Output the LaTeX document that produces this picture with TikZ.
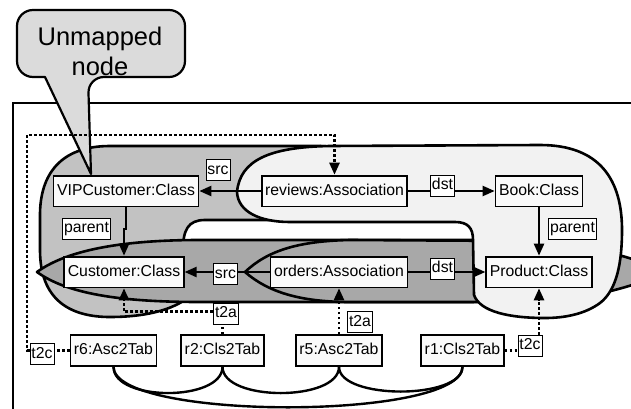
\documentclass[tikz,border=0pt]{standalone}
\usepackage{fontspec}
\setmainfont{Liberation Sans}
\usetikzlibrary{arrows.meta}
\definecolor{blobmid}{gray}{0.76}
\definecolor{blobdark}{gray}{0.66}
\definecolor{bloblight}{gray}{0.95}
\definecolor{calloutfill}{gray}{0.86}
\definecolor{boxfill}{gray}{0.98}
\begin{document}
\begin{tikzpicture}[x=1pt,y=-1pt,
  elem/.style={draw=black, line width=1.8pt, fill=boxfill, font=\fontsize{15.8}{18}\selectfont,
    text height=12pt, text depth=3.8pt, inner xsep=3.5pt, inner ysep=7.5pt},
  lbl/.style={draw=black, line width=0.8pt, fill=white, font=\fontsize{15.8}{18}\selectfont,
    text height=12pt, text depth=3.8pt, inner xsep=1.5pt, inner ysep=2.5pt},
  blob/.style={draw=black, line width=2.6pt, line join=round},
  link/.style={line width=2.2pt, -{Triangle[length=12pt,width=10pt]}},
  trace/.style={line width=2.5pt, dash pattern=on 2.7pt off 2.3pt},
  tracearrow/.style={trace, -{Triangle[length=12pt,width=10pt]}},
  rulelink/.style={line width=2.4pt},
  bigtext/.style={font=\fontsize{25.5}{30}\selectfont, anchor=base, inner sep=0pt}
]
\useasboundingbox (0,0) rectangle (631,409);

% frame of the model area
\draw[line width=1.3pt] (13,409) -- (13,103) -- (631,103);

% mid-grey region around the customer classes
\draw[blob, fill=blobmid] (183,250) .. controls (183,230) and (188,220) .. (205,220)
  -- (455,220) .. controls (468,220) and (470,212) .. (470,205)
  .. controls (470,185) and (455,170) .. (420,170)
  .. controls (380,170) and (350,146) .. (320,146)
  -- (110,146) .. controls (60,146) and (40,175) .. (40,215)
  -- (40,250) .. controls (40,300) and (70,317) .. (110,317)
  .. controls (150,317) and (178,308) .. (192,294) -- cycle;

% dark lens around Customer / orders
\draw[blob, fill=blobdark] (37,272) .. controls (70,248) and (130,240) .. (200,240)
  -- (470,240) .. controls (510,240) and (530,260) .. (530,272)
  .. controls (530,285) and (510,302) .. (470,302)
  -- (200,302) .. controls (130,302) and (70,296) .. (37,272) -- cycle;

% dark lens around orders / Product
\draw[blob, fill=blobdark] (245,272) .. controls (268,250) and (300,241) .. (350,240)
  -- (520,241) .. controls (580,243) and (630,255) .. (665,272)
  .. controls (630,289) and (580,301) .. (520,302)
  -- (350,302) .. controls (300,302) and (268,292) .. (245,272) -- cycle;

% light hook around reviews / Book / Product
\draw[blob, fill=bloblight] (237,192) .. controls (240,160) and (270,147) .. (330,146)
  -- (540,145) .. controls (600,145) and (622,180) .. (622,230)
  .. controls (622,262) and (617,290) .. (600,303)
  .. controls (585,314) and (565,318) .. (545,318)
  .. controls (510,318) and (480,312) .. (474,295)
  -- (473,240) .. controls (473,228) and (468,222) .. (455,222)
  -- (290,222) .. controls (260,222) and (238,212) .. (237,192) -- cycle;

% callout
\draw[line width=2.2pt, fill=calloutfill, line join=round] (91,174) -- (45,77)
  [rounded corners=16pt] -- (17,77) -- (17,10) -- (185,10) -- (185,77) -- (88,77)
  [sharp corners] -- cycle;
\node[bigtext] (calloutA) at (100,46) {Unmapped};
\node[bigtext] (calloutB) at (100,76) {node};

% model elements
\node[elem] (vip) at (126,191) {VIPCustomer:Class};
\node[elem] (reviews) at (334.5,191) {reviews:Association};
\node[elem] (book) at (539,191) {Book:Class};
\node[elem] (customer) at (124,272) {Customer:Class};
\node[elem] (orders) at (339,272) {orders:Association};
\node[elem] (product) at (539,272) {Product:Class};
\node[elem] (r6) at (113.5,350.5) {r6:Asc2Tab};
\node[elem] (r2) at (222.5,350.5) {r2:Cls2Tab};
\node[elem] (r5) at (339,350.5) {r5:Asc2Tab};
\node[elem] (r1) at (462.5,350.5) {r1:Cls2Tab};

% references
\draw[link] (reviews.west) -- (vip.east);
\draw[link] (reviews.east) -- (book.west);
\draw[link] (book.south) -- (product.north);
\draw[link] (vip.south) -- ++(0,22) -| (customer.north);
\draw[link] (orders.west) -- (customer.east);
\draw[link] (orders.east) -- (product.west);

% reference labels
\node[lbl] (srcTop) at (218,170) {src};
\node[lbl] (dstTop) at (442.5,185.5) {dst};
\node[lbl] (parentL) at (86.5,228.5) {parent};
\node[lbl] (parentR) at (572.5,228.5) {parent};
\node[lbl] (srcBot) at (225.5,274) {src};
\node[lbl] (dstBot) at (442.5,268.5) {dst};
\node[lbl] (t2aL) at (226,313.5) {t2a};
\node[lbl] (t2aM) at (360,322) {t2a};
\node[lbl] (t2cL) at (42,354) {t2c};
\node[lbl] (t2cR) at (530,345.5) {t2c};

% traces from rule applications
\coordinate (loopcorner) at (27,135);
\draw[trace] (r6.west) -- (r6.west -| t2cL.east);
\draw[tracearrow] (t2cL.west |- r6.west) -| (loopcorner) -| (reviews.north);
\draw[trace] (r2.north) -- (r2.north |- t2aL.south);
\draw[tracearrow] ([yshift=2pt]t2aL.west) -| (customer.south);
\draw[tracearrow] (r5.north) -- (orders.south);
\draw[trace] (r1.east) -- (r1.east -| t2cR.west);
\draw[tracearrow] (t2cR.north -| product.south) -- (product.south);

% rule dependencies
\draw[rulelink] (r6.south) .. controls +(0,35) and +(0,35) .. (r2.south);
\draw[rulelink] (r2.south) .. controls +(0,35) and +(0,35) .. (r5.south);
\draw[rulelink] (r5.south) .. controls +(0,33) and +(0,33) .. (r1.south);
\draw[rulelink] (r6.south) .. controls +(0,54) and +(0,54) .. (r1.south);
\end{tikzpicture}
\end{document}
